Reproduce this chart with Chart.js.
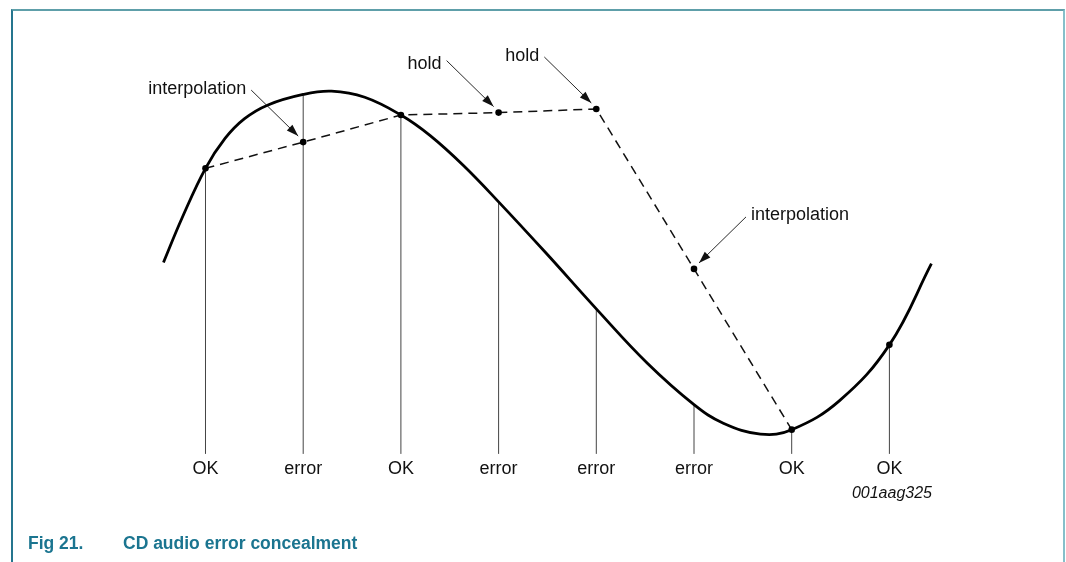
<!DOCTYPE html>
<html>
<head>
<meta charset="utf-8">
<script src="https://cdn.jsdelivr.net/npm/chart.js@4.4.1/dist/chart.umd.min.js"></script>
<style>
  html, body { margin: 0; padding: 0; background: #fff; }
  body { width: 1066px; height: 562px; position: relative; overflow: hidden; font-family: "Liberation Sans", Arial, sans-serif; }
  #frame { position: absolute; left: 11px; top: 9px; width: 1050px; height: 560px;
           border-top: 2px solid #5e9fa9; border-left: 2px solid #25758e; border-right: 2px solid #86bfca; }
  #chart { position: absolute; left: 0; top: 0; }
  .code { position: absolute; right: 134px; top: 485px; font-size: 16px; line-height: 16px; font-style: italic; color: #111; }
  .caption { position: absolute; top: 535px; font-size: 17.5px; line-height: 17.5px; font-weight: bold; color: #1b7590; }
</style>
</head>
<body>
<div id="frame"></div>
<canvas id="chart" width="1066" height="562"></canvas>
<div class="code">001aag325</div>
<div class="caption" style="left:28px">Fig 21.</div>
<div class="caption" style="left:123px">CD audio error concealment</div>
<script>
// sample instants and their status
const sampleX = [0, 1, 2, 3, 4, 5, 6, 7];
const sampleStatus = ['OK', 'error', 'OK', 'error', 'error', 'error', 'OK', 'OK'];

// original analog signal
const curveX = [-0.43, -0.24, 0, 0.2, 0.4, 0.64, 1, 1.29, 1.63, 2, 2.3, 2.64, 3, 3.49, 4, 4.52, 5, 5.3, 5.68, 6, 6.49, 7, 7.43];
const curveY = [4.74, 5.84, 7.07, 7.81, 8.30, 8.64, 8.90, 8.98, 8.83, 8.39, 7.88, 7.14, 6.24, 4.96, 3.59, 2.25, 1.22, 0.76, 0.49, 0.60, 1.32, 2.70, 4.71];

// signal value at each sample, and the concealed output
const sampleY = [7.07, 8.90, 8.39, 6.24, 3.59, 1.22, 0.60, 2.70];
const outputY = [7.07, 7.72, 8.39, 8.45, 8.54, 4.58, 0.60, 2.70];

// annotations: which output sample they point to
const notes = [
    { index: 1, text: 'interpolation' },
    { index: 3, text: 'hold' },
    { index: 4, text: 'hold' },
    { index: 5, text: 'interpolation' }
];

const FONT = '"Liberation Sans", Arial, sans-serif';

const notePlugin = {
    id: 'notes',
    afterDatasetsDraw(chart, args, opts) {
        const meta = chart.getDatasetMeta(0);
        const ctx = chart.ctx;
        ctx.save();
        ctx.font = '18px ' + FONT;
        ctx.fillStyle = '#111';
        ctx.strokeStyle = '#111';
        notes.forEach((n, k) => {
            const pt = meta.data[n.index];
            const s = opts.side[k];
            const tipX = pt.x + s * 5, tipY = pt.y - 6;
            const startX = pt.x + s * 52, startY = pt.y - 52;
            ctx.lineWidth = 0.9;
            ctx.beginPath();
            ctx.moveTo(startX, startY);
            ctx.lineTo(tipX, tipY);
            ctx.stroke();
            // arrow head
            const ang = Math.atan2(tipY - startY, tipX - startX);
            const L = 12, W = 4;
            ctx.beginPath();
            ctx.moveTo(tipX, tipY);
            ctx.lineTo(tipX - L * Math.cos(ang) + W * Math.sin(ang), tipY - L * Math.sin(ang) - W * Math.cos(ang));
            ctx.lineTo(tipX - L * Math.cos(ang) - W * Math.sin(ang), tipY - L * Math.sin(ang) + W * Math.cos(ang));
            ctx.closePath();
            ctx.fill();
            ctx.textBaseline = 'alphabetic';
            ctx.textAlign = s < 0 ? 'right' : 'left';
            ctx.fillText(n.text, pt.x + s * 57, pt.y + opts.dy[k]);
        });
        ctx.restore();
    }
};

new Chart(document.getElementById('chart'), {
    type: 'scatter',
    data: {
        datasets: [
            {
                // concealed output (dashed) with sample dots
                data: sampleX.map((x, i) => ({ x: x, y: outputY[i] })),
                showLine: true,
                borderColor: '#111',
                borderWidth: 1.5,
                borderDash: [9, 6],
                segment: {
                    borderColor: c => c.p1DataIndex === sampleX.length - 1 ? 'rgba(0,0,0,0)' : '#111'
                },
                pointRadius: 3.3,
                pointBackgroundColor: '#000',
                pointBorderWidth: 0
            },
            {
                // analog signal
                data: curveX.map((x, i) => ({ x: x, y: curveY[i] })),
                showLine: true,
                borderColor: '#000',
                borderWidth: 2.8,
                tension: 0.4,
                pointRadius: 0
            },
            {
                // sample stems
                data: sampleX.flatMap((x, i) => [{ x: x, y: 0 }, { x: x, y: sampleY[i] }, { x: x, y: null }]),
                showLine: true,
                spanGaps: false,
                borderColor: '#444',
                borderWidth: 1,
                pointRadius: 0
            }
        ]
    },
    options: {
        responsive: false,
        animation: false,
        events: [],
        layout: { padding: { left: 100, right: 66, top: 50, bottom: 78.5 } },
        plugins: {
            legend: { display: false },
            tooltip: { enabled: false },
            notes: { side: [-1, -1, -1, 1], dy: [-48, -44, -48, -49] }
        },
        scales: {
            x: {
                type: 'linear',
                min: -1.0798,
                max: 8.132,
                grid: { display: false, drawTicks: false, tickLength: 0 },
                border: { display: false },
                afterBuildTicks: scale => { scale.ticks = sampleX.map(v => ({ value: v })); },
                ticks: {
                    padding: 4,
                    color: '#111',
                    font: { family: FONT, size: 18 },
                    callback: v => sampleStatus[v]
                }
            },
            y: { display: false, min: 0, max: 10 }
        }
    },
    plugins: [notePlugin]
});
</script>
</body>
</html>
